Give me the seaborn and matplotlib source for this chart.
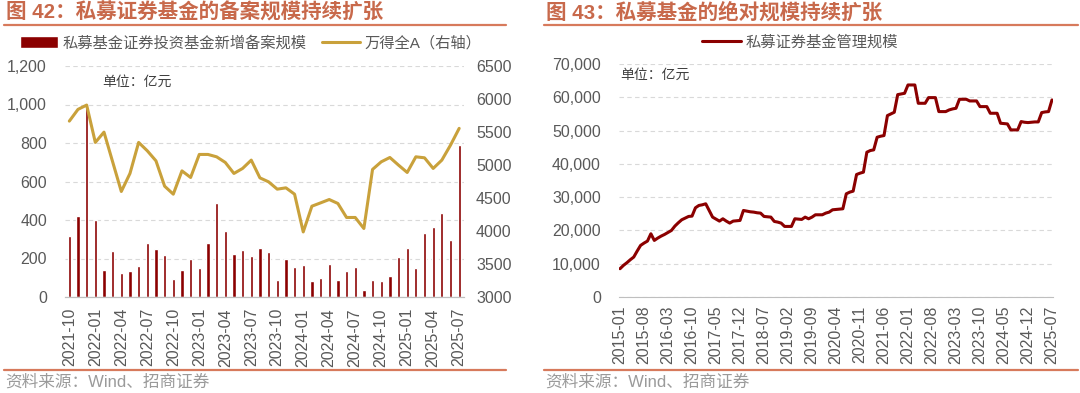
import numpy as np
import pandas as pd
import seaborn as sns
import matplotlib.pyplot as plt
from matplotlib.lines import Line2D
from matplotlib.ticker import FuncFormatter

# Left chart: monthly new filings (100m yuan) and Wind All A index
months_l = pd.period_range('2021-10', '2025-07', freq='M').strftime('%Y-%m').tolist()
filings = [315, 421, 997, 399, 139, 239, 127, 134, 161, 281, 248, 220, 96, 139, 196, 151,
           278, 486, 343, 222, 243, 212, 257, 236, 87, 198, 154, 168, 85, 97, 170, 90,
           134, 154, 35, 90, 82, 109, 208, 252, 151, 330, 364, 437, 298, 789]
wind_a = [5665, 5843, 5908, 5342, 5498, 5048, 4599, 4872, 5342, 5215, 5063, 4679, 4558, 4911,
          4811, 5160, 5160, 5124, 5039, 4872, 4948, 5074, 4805, 4745, 4634, 4654, 4558, 3986,
          4376, 4426, 4477, 4417, 4205, 4205, 4038, 4933, 5048, 5114, 4998, 4887, 5124, 5109,
          4948, 5074, 5301, 5555]

# Right chart: private securities fund AUM (100m yuan), 2015-01 .. 2025-07
months_r = pd.period_range('2015-01', '2025-07', freq='M').strftime('%Y-%m').tolist()
aum = [8500, 9500, 10300, 11200, 12000, 13800, 15500, 16200, 16800, 19000, 17000, 17700,
       18300, 18800, 19400, 20000, 21300, 22300, 23200, 23700, 24200, 24300, 26800, 27500,
       27700, 28000, 26000, 24000, 23400, 22800, 23500, 22800, 22200, 22800, 22900, 23000,
       26000, 25800, 25600, 25500, 25300, 25200, 24200, 24100, 24000, 22700, 22500, 22200,
       21200, 21200, 21200, 23500, 23400, 23300, 24000, 23500, 24000, 24700, 24700, 24700,
       25200, 25500, 26200, 26300, 26400, 26500, 31000, 31500, 31800, 36800, 37200, 37500,
       43500, 44000, 44200, 48000, 48300, 48500, 54500, 55000, 55500, 60800, 61000, 61200,
       63700, 63700, 63700, 58200, 58200, 58200, 59900, 59900, 59900, 55700, 55700, 55700,
       56200, 56500, 56700, 59400, 59400, 59400, 58900, 58900, 58900, 57200, 57200, 57200,
       55200, 55200, 55200, 52200, 52100, 52000, 50200, 50200, 50200, 52700, 52500, 52400,
       52500, 52600, 52600, 55400, 55600, 55700, 59200]

sns.set_style('white')
plt.rcParams['font.family'] = ['Liberation Sans', 'Noto Sans CJK SC']

RED = '#8b0000'
GOLD = '#c9a13b'
TITLE = '#c8694b'
TXT = '#595959'
GRID = '#d9d9d9'
W, H = 1080, 393

fig = plt.figure(figsize=(10.8, 3.93), dpi=100)


def box(x0, y0, x1, y1):
    return [x0 / W, 1 - y1 / H, (x1 - x0) / W, (y1 - y0) / H]


comma = FuncFormatter(lambda v, p: f'{v:,.0f}')

# ---------------- left chart ----------------
ax1 = fig.add_axes(box(65, 66, 463.5, 297))
sns.barplot(x=months_l, y=filings, color=RED, width=0.38, ax=ax1,
            label='私募基金证券投资基金新增备案规模', saturation=1)
if ax1.get_legend() is not None:
    ax1.get_legend().remove()
ax1.set_xlim(-0.5, len(months_l) - 0.5)
ax1.set_ylim(0, 1200)
ax1.set_yticks(range(0, 1201, 200))
ax1.yaxis.set_major_formatter(comma)
ax1.grid(axis='y', color=GRID, ls=(0, (4, 3)), lw=0.8)
ax1.set_axisbelow(True)

ax2 = ax1.twinx()
sns.lineplot(x=np.arange(len(wind_a)), y=wind_a, color=GOLD, lw=2.2, ax=ax2,
             label='万得全A（右轴）')
ax2.set_ylim(3000, 6500)
ax2.set_yticks(range(3000, 6501, 500))
ax2.get_legend().remove()

ax1.set_xticks(range(0, len(months_l), 3), [months_l[i] for i in range(0, len(months_l), 3)],
               rotation=90)
ax1.set_xticks(np.arange(-0.5, len(months_l), 3), minor=True)
ax1.tick_params(axis='x', which='major', length=0, pad=8, labelsize=11.5, labelcolor=TXT)
ax1.tick_params(axis='x', which='minor', length=4, color='#bfbfbf', width=0.8)
ax1.tick_params(axis='y', length=0, pad=13, labelsize=11.5, labelcolor=TXT)
ax2.tick_params(axis='y', length=0, pad=9, labelsize=11.5, labelcolor=TXT)

for a in (ax1, ax2):
    for s in ('top', 'left', 'right'):
        a.spines[s].set_visible(False)
    a.spines['bottom'].set_color('#bfbfbf')
ax1.set_xlabel('')

h1, l1 = ax1.get_legend_handles_labels()
h2, l2 = ax2.get_legend_handles_labels()
fig.legend(h1 + h2, l1 + l2, loc='center left', bbox_to_anchor=(20 / W, 1 - 43 / H),
           ncol=2, frameon=False, fontsize=11, borderpad=0, borderaxespad=0,
           handlelength=2.5, handleheight=0.75, handletextpad=0.3, columnspacing=1.0,
           labelcolor=TXT)
fig.text(102 / W, 1 - 82 / H, '单位：亿元', fontsize=10, color='#404040', va='center')

# ---------------- right chart ----------------
ax3 = fig.add_axes(box(619, 64, 1053, 297))
sns.lineplot(x=np.arange(len(aum)), y=aum, color=RED, lw=2.2, ax=ax3,
             label='私募证券基金管理规模')
ax3.set_xlim(-0.3, len(aum) - 0.7)
ax3.set_ylim(0, 70000)
ax3.set_yticks(range(0, 70001, 10000))
ax3.yaxis.set_major_formatter(comma)
ax3.set_xticks(range(0, len(aum), 7), [months_r[i] for i in range(0, len(aum), 7)],
               rotation=90)
ax3.grid(axis='y', color=GRID, ls=(0, (4, 3)), lw=0.8)
ax3.tick_params(axis='x', length=4, color='#bfbfbf', width=0.8, pad=2,
                labelsize=11.5, labelcolor=TXT)
ax3.tick_params(axis='y', length=0, pad=13, labelsize=11.5, labelcolor=TXT)
for s in ('top', 'left', 'right'):
    ax3.spines[s].set_visible(False)
ax3.spines['bottom'].set_color('#bfbfbf')
ax3.legend(loc='center', bbox_to_anchor=(800 / W, 1 - 42 / H), bbox_transform=fig.transFigure,
           frameon=False, fontsize=11, borderpad=0, borderaxespad=0,
           handlelength=2.5, handletextpad=0.3, labelcolor=TXT)
fig.text(620 / W, 1 - 75 / H, '单位：亿元', fontsize=10, color='#404040', va='center')

# ---------------- titles, rules, sources ----------------
for x0, x1, title in [(4, 506, '图 42：私募证券基金的备案规模持续扩张'),
                      (544, 1078, '图 43：私募基金的绝对规模持续扩张')]:
    fig.text((x0 + 2) / W, 1 - 12 / H, title, fontsize=14.8, fontweight='bold',
             color=TITLE, va='center')
    fig.add_artist(Line2D([x0 / W, x1 / W], [1 - 25 / H] * 2, color='#d77a5c', lw=1.6))
    fig.add_artist(Line2D([x0 / W, x1 / W], [1 - 370 / H] * 2, color='#d77a5c', lw=1.6))
    fig.text((x0 + 1) / W, 1 - 382 / H, '资料来源：Wind、招商证券', fontsize=12,
             color='#9a9a9a', va='center')

fig.savefig('out.png', dpi=100)
